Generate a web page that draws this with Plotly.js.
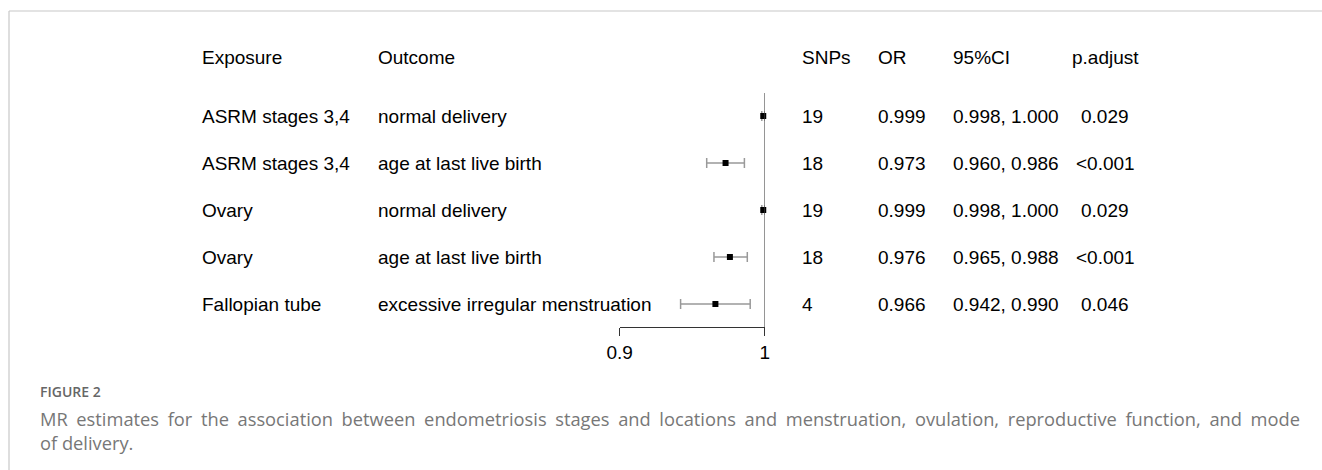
<!DOCTYPE html>
<html>
<head>
<meta charset="utf-8">
<script src="https://cdn.plot.ly/plotly-3.0.1.min.js"></script>
<style>html,body{margin:0;padding:0;background:#fff;}#chart{width:1322px;height:470px;}</style>
</head>
<body>
<div id="chart"></div>
<script>
// ---- data ----
const headers = ["Exposure", "Outcome", "SNPs", "OR", "95%CI", "p.adjust"];
const exposure = ["ASRM stages 3,4", "ASRM stages 3,4", "Ovary", "Ovary", "Fallopian tube"];
const outcome = ["normal delivery", "age at last live birth", "normal delivery", "age at last live birth", "excessive irregular menstruation"];
const snps = [19, 18, 19, 18, 4];
const orVals = [0.999, 0.973, 0.999, 0.976, 0.966];
const ciLow = [0.998, 0.960, 0.998, 0.965, 0.942];
const ciHigh = [1.000, 0.986, 1.000, 0.988, 0.990];
const pAdjust = ["0.029", "<0.001", "0.029", "<0.001", "0.046"];
const xTicks = [0.9, 1];
const xTickText = ["0.9", "1"];
const captionLabel = "FIGURE 2";
const captionLines = [
  "MR estimates for the association between endometriosis stages and locations and menstruation, ovulation, reproductive function, and mode",
  "of delivery."
];

// ---- layout helpers ----
const W = 1322, H = 470;
const px = v => v / W;
const py = v => (H - v) / H;
const rows = exposure.map((_, i) => i + 1);
const headerRow = -0.255;
const FONT = "Liberation Sans, Arial, sans-serif";
const CAP_FONT = "Open Sans, Noto Sans, sans-serif";

const colX = [200, 376, 800, 876, 951, 1105];
const colAnchor = ["left", "left", "left", "left", "left", "center"];

const annotations = [];
function addText(text, col, y) {
  annotations.push({
    text: text, xref: "paper", yref: "y", x: px(colX[col]), y: y,
    xanchor: colAnchor[col], yanchor: "middle", showarrow: false,
    font: {family: FONT, size: 19, color: "#000"}
  });
}
headers.forEach((h, c) => addText(h, c, headerRow));
rows.forEach((r, i) => {
  addText(exposure[i], 0, r);
  addText(outcome[i], 1, r);
  addText(String(snps[i]), 2, r);
  addText(orVals[i].toFixed(3), 3, r);
  addText(ciLow[i].toFixed(3) + ", " + ciHigh[i].toFixed(3), 4, r);
  addText(pAdjust[i], 5, r);
});

annotations.push({
  text: captionLabel, xref: "paper", yref: "paper", x: px(38), y: py(391),
  xanchor: "left", yanchor: "middle", showarrow: false,
  font: {family: CAP_FONT, size: 14, color: "#666", weight: 600}
});
annotations.push({
  text: captionLines.join("<br>"), xref: "paper", yref: "paper", x: px(38), y: py(430),
  xanchor: "left", yanchor: "middle", align: "left", showarrow: false,
  font: {family: CAP_FONT, size: 18.3, color: "#777"}
});

const trace = {
  type: "scatter", mode: "markers",
  x: orVals, y: rows,
  marker: {symbol: "square", size: 6, color: "#000"},
  error_x: {
    type: "data", symmetric: false,
    array: orVals.map((v, i) => ciHigh[i] - v),
    arrayminus: orVals.map((v, i) => v - ciLow[i]),
    color: "#999", thickness: 1.5, width: 5
  },
  cliponaxis: false, hoverinfo: "skip"
};

const layout = {
  width: W, height: H,
  margin: {l: 0, r: 0, t: 0, b: 0, pad: 0},
  paper_bgcolor: "#fff", plot_bgcolor: "rgba(0,0,0,0)",
  showlegend: false,
  xaxis: {
    domain: [px(619.7), px(764.7)], range: [0.9, 1.0],
    tickvals: xTicks, ticktext: xTickText,
    showline: true, linecolor: "#333", linewidth: 1,
    ticks: "outside", ticklen: 8, tickcolor: "#333", tickwidth: 1,
    showgrid: false, zeroline: false,
    tickfont: {family: FONT, size: 19, color: "#000"},
    fixedrange: true
  },
  yaxis: {
    domain: [py(327), py(40)], range: [5.489, -0.617],
    visible: false, showgrid: false, zeroline: false, fixedrange: true
  },
  shapes: [
    {type: "line", xref: "x", yref: "y", x0: 1, x1: 1, y0: 0.511, y1: 5.489,
     line: {color: "#444", width: 1}},
    {type: "line", xref: "paper", yref: "paper", x0: px(9), x1: 1, y0: py(11), y1: py(11),
     line: {color: "#c8c8c8", width: 1.2}},
    {type: "line", xref: "paper", yref: "paper", x0: px(9), x1: px(9), y0: py(11), y1: 0,
     line: {color: "#c8c8c8", width: 1.2}}
  ],
  annotations: annotations
};

Plotly.newPlot("chart", [trace], layout, {displayModeBar: false, staticPlot: true}).then(() => {
  // the source web page justifies the first (full) caption line
  const rightPx = 1300;
  document.querySelectorAll("#chart .annotation-text tspan").forEach(s => {
    if (s.textContent !== captionLines[0]) return;
    const spaces = (captionLines[0].match(/ /g) || []).length;
    let extra = 0;
    for (let k = 0; k < 4; k++) {
      const r = s.getBoundingClientRect();
      extra += (rightPx - r.right) / spaces;
      if (extra < 0) extra = 0;
      s.style.wordSpacing = extra.toFixed(3) + "px";
    }
  });
});
</script>
</body>
</html>
